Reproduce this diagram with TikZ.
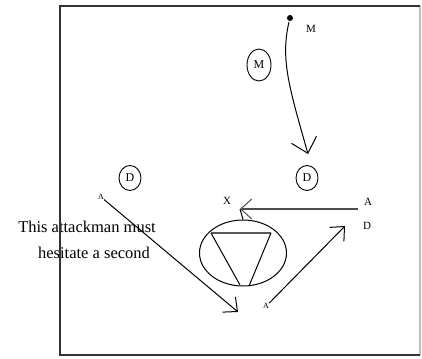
\documentclass[tikz,border=0pt]{standalone}
\usepackage{fontspec}
\setmainfont{Liberation Serif}
\usetikzlibrary{arrows.meta,positioning,shapes.geometric}

\begin{document}
\begin{tikzpicture}[
  x=1pt,y=-1pt,
  font=\fontsize{12}{13}\selectfont,
  lbl/.style={inner sep=0pt,font=\fontsize{11}{12}\selectfont},
  circ/.style={draw,ellipse,inner sep=0pt,line width=0.9pt,font=\fontsize{12}{13}\selectfont},
  a/.style={-{Straight Barb[length=11pt,width=20pt,line width=1pt]},line width=1pt},
  note/.style={inner sep=0pt,font=\fontsize{16.5}{18}\selectfont}
]
\useasboundingbox (0,0) rectangle (422,358);

% note
\node[note] (note1) at (87,227) {This attackman must};
\node[note] (note2) at (94,253) {hesitate a second};

% frame
\draw[line width=1.6pt,draw=black!25] (420,6) -- (420,355);
\draw[line width=1.6pt,draw=black!80] (420,6) -- (60,6) -- (60,355) -- (420,355);

% players
\fill (290,18) circle (3pt);
\coordinate (mstart) at (289,22);
\node[lbl] (mlab) at (311,29) {M};
\node[circ,minimum width=24pt,minimum height=32pt] (mdef) at (259,65) {M};
\node[circ,minimum width=22pt,minimum height=25pt] (dleft) at (130,178) {D};
\node[circ,minimum width=22pt,minimum height=25pt] (dright) at (307,178) {D};

\node[lbl,font=\fontsize{8}{9}\selectfont] (aleft) at (101,197) {A};
\node[lbl] (xlab) at (227,201) {X};
\node[lbl] (aright) at (368,202) {A};
\node[lbl] (dlab) at (367,226) {D};
\node[lbl,font=\fontsize{8}{9}\selectfont] (alow) at (266,306) {A};

\coordinate (mtip) at (308,154);
\coordinate (xtip) at (240,209);
\coordinate (xfrom) at (358,209);
\coordinate (lowtip) at (238,312);
\coordinate (dtip) at (345,226);

% crease
\node[draw,ellipse,minimum width=87pt,minimum height=66pt,line width=1pt] (crease) at (243,253) {};
\coordinate (ctl) at (211,233);
\coordinate (ctr) at (271,233);
\draw[line width=1.8pt,draw=black!65] (ctl) -- (ctr);
\draw[line width=1pt] (ctl) -- (240,285);
\draw[line width=1pt] (ctr) -- (249,286);

% moves
\draw[a,-{Straight Barb[length=14pt,width=26pt,line width=1pt]}] (mstart) .. controls (280,60) and (290,90) .. (mtip);
\draw[a] (aleft) -- (lowtip);
\draw[a,line width=1.8pt,draw=black!70] (xfrom) -- (xtip);
\draw[line width=1pt] (xtip) -- (crease.north);
\draw[a] (alow.north east) -- (dtip);
\end{tikzpicture}
\end{document}
